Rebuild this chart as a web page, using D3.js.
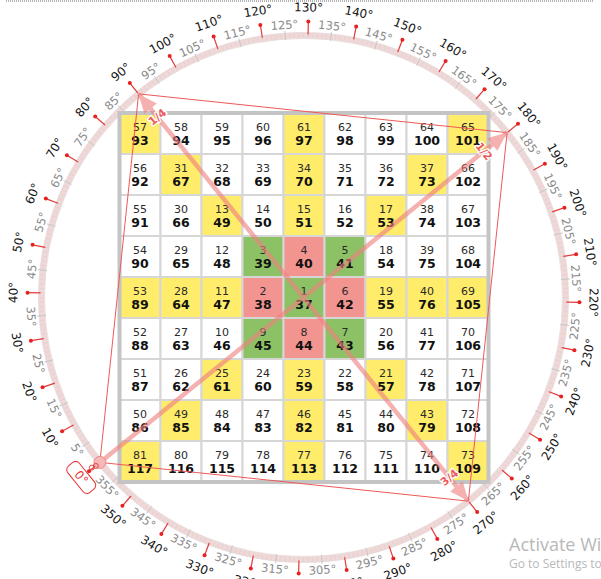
<!DOCTYPE html>
<html><head><meta charset="utf-8">
<script src="https://cdn.jsdelivr.net/npm/d3@7"></script>
<style>html,body{margin:0;padding:0;background:#fff;overflow:hidden}</style>
</head><body>
<svg id="chart" width="601" height="579"></svg>
<script>
// ---- data ----
const innerNumbers = [
  [57,58,59,60,61,62,63,64,65],
  [56,31,32,33,34,35,36,37,66],
  [55,30,13,14,15,16,17,38,67],
  [54,29,12,3,4,5,18,39,68],
  [53,28,11,2,1,6,19,40,69],
  [52,27,10,9,8,7,20,41,70],
  [51,26,25,24,23,22,21,42,71],
  [50,49,48,47,46,45,44,43,72],
  [81,80,79,78,77,76,75,74,73]
];
const outerNumbers = [
  [93,94,95,96,97,98,99,100,101],
  [92,67,68,69,70,71,72,73,102],
  [91,66,49,50,51,52,53,74,103],
  [90,65,48,39,40,41,54,75,104],
  [89,64,47,38,37,42,55,76,105],
  [88,63,46,45,44,43,56,77,106],
  [87,62,61,60,59,58,57,78,107],
  [86,85,84,83,82,81,80,79,108],
  [117,116,115,114,113,112,111,110,109]
];
const cellColors = [
  "YWWWYWWWY",
  "WYWWYWWYW",
  "WWYWYWYWW",
  "WWWGRGWWW",
  "YYYRGRYYY",
  "WWWGRGWWW",
  "WWYWYWYWW",
  "WYWWYWWYW",
  "YWWWYWWWY"
];
const majorDegrees = d3.range(0, 360, 10);
const minorDegrees = d3.range(5, 360, 10);
const cornerDegrees = [0, 90, 180, 270];
const quarterArrows = [
  {from: 0, to: 180, heads: [180]},
  {from: 270, to: 90, heads: [90, 270]}
];
const quarterLabels = [
  {deg: 90, label: "1/4"},
  {deg: 180, label: "1/2"},
  {deg: 270, label: "3/4"}
];

// ---- layout ----
const svg = d3.select("#chart");
const cx = 303.5, cy = 297.5, R = 262;
const angle = d3.scaleLinear().domain([0, 360]).range([141, 501]);
function pt(deg, r) {
  const a = angle(deg) * Math.PI / 180;
  return [cx + r * Math.cos(a), cy + r * Math.sin(a)];
}
function textRot(deg) {
  let r = ((angle(deg) + 90) % 360 + 360) % 360;
  if (r > 180) r -= 360;
  if (r > 91.5) r -= 180;
  if (r < -89.5) r += 180;
  return r;
}
const colorMap = {Y: "#ffec6a", W: "#ffffff", G: "#8cc265", R: "#f29590"};

// top dotted line
svg.append("line").attr("x1", 6).attr("x2", 594).attr("y1", 1).attr("y2", 1)
  .attr("stroke", "#666").attr("stroke-width", 1).attr("stroke-dasharray", "1,1");

// ---- ring ----
svg.append("circle").attr("cx", cx).attr("cy", cy).attr("r", R)
  .attr("fill", "none").attr("stroke", "#eed8d8").attr("stroke-width", 6);
svg.append("g").selectAll("line").data(d3.range(0, 360, 1)).join("line")
  .attr("x1", d => pt(d, R - 2)[0]).attr("y1", d => pt(d, R - 2)[1])
  .attr("x2", d => pt(d, R + 2)[0]).attr("y2", d => pt(d, R + 2)[1])
  .attr("stroke", "#e4c4c4").attr("stroke-width", 0.5);
svg.append("circle").attr("cx", cx).attr("cy", cy).attr("r", R + 3)
  .attr("fill", "none").attr("stroke", "#e0d4d4").attr("stroke-width", 0.6);
svg.append("circle").attr("cx", cx).attr("cy", cy).attr("r", R - 3)
  .attr("fill", "none").attr("stroke", "#e0d4d4").attr("stroke-width", 0.6);

// minor ticks (5°)
svg.append("g").selectAll("line").data(minorDegrees).join("line")
  .attr("x1", d => pt(d, R - 4)[0]).attr("y1", d => pt(d, R - 4)[1])
  .attr("x2", d => pt(d, R + 5)[0]).attr("y2", d => pt(d, R + 5)[1])
  .attr("stroke", "#c8c8c8").attr("stroke-width", 1);

// major ticks (10°)
const maj = svg.append("g");
maj.selectAll("line").data(majorDegrees).join("line")
  .attr("x1", d => pt(d, R + 1)[0]).attr("y1", d => pt(d, R + 1)[1])
  .attr("x2", d => pt(d, R + 14)[0]).attr("y2", d => pt(d, R + 14)[1])
  .attr("stroke", "#e23a3a").attr("stroke-width", 1.2);
maj.selectAll("circle").data(majorDegrees).join("circle")
  .attr("cx", d => pt(d, R + 14)[0]).attr("cy", d => pt(d, R + 14)[1])
  .attr("r", 2).attr("fill", "#e82020");

// labels
svg.append("g").selectAll("text").data(majorDegrees.filter(d => d !== 0)).join("text")
  .attr("transform", d => `translate(${pt(d, R + 28)}) rotate(${textRot(d)})`)
  .attr("text-anchor", "middle").attr("dominant-baseline", "central")
  .attr("font-family", "DejaVu Sans, Verdana, sans-serif").attr("font-size", 12)
  .attr("fill", "#151515").text(d => d + "°");
svg.append("g").selectAll("text").data(minorDegrees).join("text")
  .attr("transform", d => `translate(${pt(d, R + 11)}) rotate(${textRot(d)})`)
  .attr("text-anchor", "middle").attr("dominant-baseline", "central")
  .attr("font-family", "DejaVu Sans, Verdana, sans-serif").attr("font-size", 11.5)
  .attr("fill", "#8a8a8a").text(d => d + "°");

// 0° marker
const zp = pt(0, R + 24);
const zg = svg.append("g").attr("transform", `translate(${zp}) rotate(${textRot(0)})`);
zg.append("rect").attr("x", -17).attr("y", -7.5).attr("width", 34).attr("height", 15).attr("rx", 5)
  .attr("fill", "none").attr("stroke", "#e83030").attr("stroke-width", 1);
zg.append("text").attr("text-anchor", "middle").attr("dominant-baseline", "central")
  .attr("font-family", "DejaVu Sans, Verdana, sans-serif").attr("font-size", 12)
  .attr("fill", "#e83030").text("0°");

// ---- grid ----
const xs = d3.scaleBand().domain(d3.range(9)).range([119.5, 488.5]);
const ys = d3.scaleBand().domain(d3.range(9)).range([113, 482]);
const cells = [];
innerNumbers.forEach((row, r) => row.forEach((v, c) =>
  cells.push({r, c, inner: v, outer: outerNumbers[r][c], col: cellColors[r][c]})));
const cg = svg.append("g").selectAll("g").data(cells).join("g")
  .attr("transform", d => `translate(${xs(d.c)},${ys(d.r)})`);
cg.append("rect").attr("width", xs.bandwidth()).attr("height", ys.bandwidth())
  .attr("fill", d => colorMap[d.col]).attr("stroke", "#d6d6d6").attr("stroke-width", 2);
cg.append("text").attr("x", xs.bandwidth() / 2).attr("y", ys.bandwidth() / 2 - 6.5)
  .attr("text-anchor", "middle").attr("dominant-baseline", "central")
  .attr("font-family", "DejaVu Sans, Verdana, sans-serif").attr("font-size", 11)
  .attr("fill", "#2a2a2a").text(d => d.inner);
cg.append("text").attr("x", xs.bandwidth() / 2).attr("y", ys.bandwidth() / 2 + 7)
  .attr("text-anchor", "middle").attr("dominant-baseline", "central")
  .attr("font-family", "DejaVu Sans, Verdana, sans-serif").attr("font-size", 12.5).attr("font-weight", "bold")
  .attr("fill", "#111").text(d => d.outer);
svg.append("rect").attr("x", 119.5).attr("y", 113).attr("width", 369).attr("height", 369)
  .attr("fill", "none").attr("stroke", "#c4c4c4").attr("stroke-width", 4);

// ---- thin quadrilateral ----
svg.append("path")
  .attr("d", d3.line()(cornerDegrees.map(d => pt(d, R))) + "Z")
  .attr("fill", "none").attr("stroke", "#f05858").attr("stroke-width", 1);

// ---- thick arrows ----
const ag = svg.append("g").attr("opacity", 0.62);
quarterArrows.forEach(a => {
  const p1 = pt(a.from, R), p2 = pt(a.to, R);
  ag.append("line").attr("x1", p1[0]).attr("y1", p1[1]).attr("x2", p2[0]).attr("y2", p2[1])
    .attr("stroke", "#f08080").attr("stroke-width", 4.5);
});
quarterArrows.forEach(a => {
  a.heads.forEach(h => {
    const other = h === a.to ? a.from : a.to;
    const tip = pt(h, R), base = pt(other, R);
    const dx = tip[0] - base[0], dy = tip[1] - base[1], L = Math.hypot(dx, dy);
    const ux = dx / L, uy = dy / L, len = 19, hw = 8;
    const bx = tip[0] - ux * len, by = tip[1] - uy * len;
    ag.append("path")
      .attr("d", `M${tip[0]},${tip[1]} L${bx - uy * hw},${by + ux * hw} L${bx + uy * hw},${by - ux * hw} Z`)
      .attr("fill", "#f08080");
  });
});
// quarter labels
quarterLabels.forEach(q => {
  const tip = pt(q.deg, R);
  const dx = cx - tip[0], dy = cy - tip[1], L = Math.hypot(dx, dy);
  const ux = dx / L, uy = dy / L;
  const lx = tip[0] + ux * 30, ly = tip[1] + uy * 30;
  const rot = Math.atan2(uy, ux) * 180 / Math.PI + 90;
  let r = ((rot % 360) + 360) % 360; if (r > 180) r -= 360;
  if (r > 90) r -= 180; if (r < -90) r += 180;
  svg.append("text").attr("transform", `translate(${lx},${ly}) rotate(${r})`)
    .attr("text-anchor", "middle").attr("dominant-baseline", "central")
    .attr("font-family", "DejaVu Sans, Verdana, sans-serif").attr("font-size", 11).attr("font-weight", "bold")
    .attr("fill", "#ec5a5a").attr("stroke", "#fff").attr("stroke-width", 2.5).attr("paint-order", "stroke")
    .text(q.label);
});

// 0° dot
const z0 = pt(0, R);
svg.append("circle").attr("cx", z0[0]).attr("cy", z0[1]).attr("r", 6)
  .attr("fill", "#f7b8b8").attr("stroke", "#ee8888").attr("stroke-width", 1);
[[-4, 9], [-8, 13]].forEach(o => {
  svg.append("circle").attr("cx", z0[0] + o[0]).attr("cy", z0[1] + o[1] * 0.4).attr("r", 2.5)
    .attr("fill", "none").attr("stroke", "#e84040").attr("stroke-width", 1);
});

// watermark
svg.append("text").attr("x", 509).attr("y", 551).attr("font-family", "Open Sans, Noto Sans, sans-serif")
  .attr("font-size", 18).attr("fill", "#b8b8b8").text("Activate Windows");
svg.append("text").attr("x", 509).attr("y", 568).attr("font-family", "Open Sans, Noto Sans, sans-serif")
  .attr("font-size", 12).attr("fill", "#b8b8b8").text("Go to Settings to activate Windows.");
</script>
</body></html>
